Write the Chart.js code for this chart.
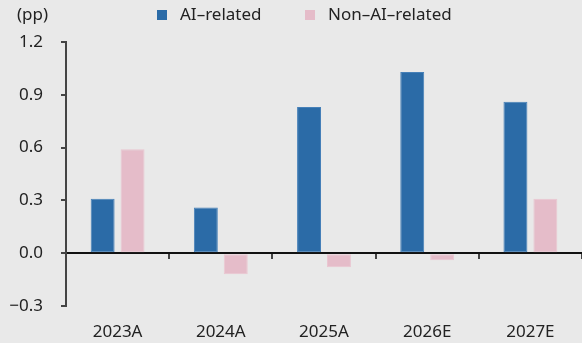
<!DOCTYPE html>
<html>
<head>
<meta charset="utf-8">
<script src="https://cdn.jsdelivr.net/npm/chart.js@4"></script>
<style>
  html, body { margin: 0; padding: 0; background: #e9e9e9; }
  #wrap { width: 582px; height: 343px; position: relative; }
</style>
</head>
<body>
<div id="wrap"><canvas id="c"></canvas></div>
<script>
// Contribution to growth, percentage points
const categories = ['2023A', '2024A', '2025A', '2026E', '2027E'];
const aiRelated = [0.31, 0.26, 0.83, 1.03, 0.86];
const nonAiRelated = [0.59, -0.12, -0.08, -0.04, 0.31];
const yTicks = [-0.3, 0.0, 0.3, 0.6, 0.9, 1.2];
const unitLabel = '(pp)';

const FONT = '"Noto Sans", "DejaVu Sans", sans-serif';
const BLUE = '#2b6ba7';
const PINK = '#e5bcc9';

// Legend and unit label drawn across the top strip
const topLabels = {
  id: 'topLabels',
  afterDraw(chart) {
    const ctx = chart.ctx;
    ctx.save();
    ctx.font = '17px ' + FONT;
    ctx.fillStyle = '#222';
    ctx.textBaseline = 'middle';
    ctx.textAlign = 'left';
    ctx.fillText(unitLabel, 17, 15);
    const items = [
      { x: 157, text: chart.data.datasets[0].label, color: chart.data.datasets[0].backgroundColor },
      { x: 305, text: chart.data.datasets[1].label, color: chart.data.datasets[1].backgroundColor }
    ];
    items.forEach(it => {
      ctx.fillStyle = it.color;
      ctx.fillRect(it.x, 10, 10, 10);
      ctx.fillStyle = '#222';
      ctx.fillText(it.text, it.x + 23, 15);
    });
    ctx.restore();
  }
};

new Chart(document.getElementById('c'), {
  type: 'bar',
  data: {
    labels: categories,
    datasets: [
      { label: 'AI\u2013related', data: aiRelated, backgroundColor: BLUE, borderColor: '#4680b8', borderWidth: 1, borderSkipped: false },
      { label: 'Non\u2013AI\u2013related', data: nonAiRelated, backgroundColor: PINK, borderColor: '#eac6d1', borderWidth: 1, borderSkipped: false }
    ]
  },
  options: {
    responsive: true,
    maintainAspectRatio: false,
    animation: false,
    layout: { padding: { top: 42, right: 0, left: 0, bottom: 0 } },
    datasets: { bar: { categoryPercentage: 0.58, barPercentage: 0.8 } },
    plugins: { legend: { display: false }, tooltip: { enabled: false } },
    scales: {
      x: {
        type: 'category',
        position: 'bottom',
        offset: true,
        grid: { display: false },
        border: { display: false },
        ticks: { color: '#222', font: { family: FONT, size: 17 }, padding: 8, maxRotation: 0 },
        afterFit(scale) { scale.height = 37; }
      },
      x2: {
        type: 'category',
        axis: 'x',
        labels: categories,
        position: { y: 0 },
        offset: true,
        grid: { display: true, drawOnChartArea: false, offset: true, tickLength: 5, color: '#444', lineWidth: 2 },
        border: { display: true, color: '#111', width: 2 },
        ticks: { display: false }
      },
      y: {
        min: -0.3,
        max: 1.2,
        afterBuildTicks(scale) { scale.ticks = yTicks.map(v => ({ value: v })); },
        grid: { display: true, drawOnChartArea: false, tickLength: 5, color: '#444', lineWidth: 2 },
        border: { display: true, color: '#444', width: 2 },
        ticks: {
          color: '#222',
          font: { family: FONT, size: 17 },
          padding: 18,
          callback: v => (v < 0 ? '\u2212' : '') + Math.abs(v).toFixed(1)
        },
        afterFit(scale) { scale.width = 66; }
      }
    }
  },
  plugins: [topLabels]
});
</script>
</body>
</html>
